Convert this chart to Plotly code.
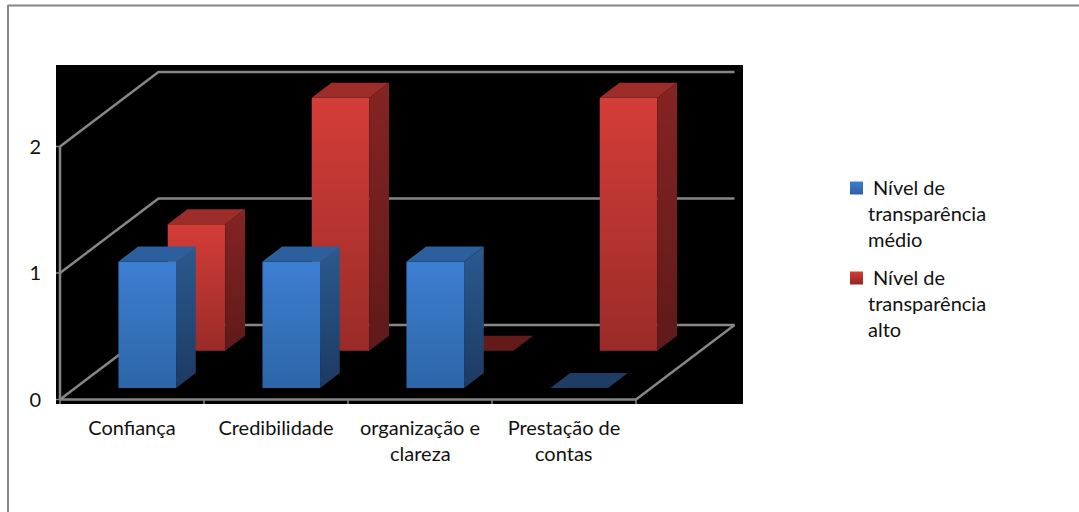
import plotly.graph_objects as go

categories = ["Confiança", "Credibilidade", "organização e", "Prestação de"]
categories_line2 = ["", "", "clareza", "contas"]
series_medio = [1, 1, 1, 0]
series_alto = [1, 2, 0, 2]
legend_medio = ["Nível de", "transparência", "médio"]
legend_alto = ["Nível de", "transparência", "alto"]
y_ticks = [0, 1, 2]

W, H = 1079, 512
L, R, T, B = 56, 743, 65, 404      # black plot rectangle, px
X0, CAT = 60.0, 144.0              # px of category 0, px per category
Y0, UNIT = 399.5, 126.5            # px of value 0, px per unit
DEPTH_X, DEPTH_Y = 98.5 / CAT, 74.5 / UNIT  # oblique offset of full floor depth
FONT = "Lato"
FS = 20
INK = "#111111"
GRID = "#868686"

def proj(c, d, v):
    return c + d * DEPTH_X, v + d * DEPTH_Y

def poly(pts):
    xy = [proj(*p) for p in pts]
    xs = [p[0] for p in xy] + [xy[0][0]]
    ys = [p[1] for p in xy] + [xy[0][1]]
    return xs, ys

fig = go.Figure()

def line3d(pts, clip=True):
    xs, ys = zip(*[proj(*p) for p in pts])
    fig.add_trace(go.Scatter(x=xs, y=ys, mode="lines", line=dict(color=GRID, width=2.5),
                             hoverinfo="skip", showlegend=False, cliponaxis=clip))

n = len(categories)
line3d([(0, 0, 0), (0, 1, 0), (n, 1, 0), (n, 0, 0), (0, 0, 0)])
line3d([(0, 0, 1), (0, 1, 1), (n, 1, 1)])
line3d([(0, 0, 2), (0, 1, 2), (n, 1, 2)])
line3d([(0, 0, 0), (0, 0, 2)])

def face(pts, colors=None, solid=None):
    xs, ys = poly(pts)
    kw = dict(x=xs, y=ys, mode="lines", line=dict(width=0), fill="toself",
              hoverinfo="skip", showlegend=False)
    if solid:
        kw["fillcolor"] = solid
    else:
        kw["fillgradient"] = dict(type="vertical",
                                  colorscale=[[0, colors[0]], [1, colors[1]]])
    fig.add_trace(go.Scatter(**kw))

def bars(values, d0, d1, front, side, top, flat):
    for i, v in enumerate(values):
        a, b = i + 0.3, i + 0.7
        if v > 0:
            face([(a, d0, 0), (b, d0, 0), (b, d0, v), (a, d0, v)], colors=front)
            face([(b, d0, 0), (b, d1, 0), (b, d1, v), (b, d0, v)], colors=side)
        face([(a, d0, v), (b, d0, v), (b, d1, v), (a, d1, v)], solid=top if v > 0 else flat)

bars(series_alto, 0.655, 0.855, ("#9A2B28", "#D43D38"), ("#5E1A19", "#852423"), "#9C2D2A", "#651A1A")
bars(series_medio, 0.155, 0.355, ("#2D65A8", "#3C7FD2"), ("#1C3A63", "#2A5A90"), "#2C5F9E", "#1E3C64")

def dx(px):
    return (px - X0) / CAT

def dy(py):
    return (Y0 - py) / UNIT

# tick marks on the front edges
for v in y_ticks:
    fig.add_trace(go.Scatter(x=[dx(54), 0], y=[v, v], mode="lines", line=dict(color=GRID, width=1.5),
                             hoverinfo="skip", showlegend=False, cliponaxis=False))
for c in range(n + 1):
    fig.add_trace(go.Scatter(x=[c, c], y=[0, dy(405.5)], mode="lines", line=dict(color=GRID, width=1.5),
                             hoverinfo="skip", showlegend=False, cliponaxis=False))

# legend swatches, on a small hidden pair of axes that spans the legend column in px
SW_L, SW_R, SW_T, SW_B = 840, 880, 170, 300
for y, c1, c2 in [(188, "#3C7FD2", "#2D5F9E"), (278, "#D43D38", "#8E2826")]:
    fig.add_trace(go.Scatter(x=[856.5], y=[y], xaxis="x2", yaxis="y2", mode="markers",
                             marker=dict(symbol="square", size=13, color=c1,
                                         gradient=dict(type="vertical", color=c2),
                                         line=dict(width=0)),
                             hoverinfo="skip", showlegend=False))

def px(x):
    return x / W

def py_(y):
    return 1 - y / H

annotations = []
def text(x, y, s, anchor="left"):
    annotations.append(dict(x=px(x), y=py_(y), xref="paper", yref="paper", text=s,
                            showarrow=False, xanchor=anchor, yanchor="middle",
                            align=anchor, font=dict(family=FONT, size=FS, color=INK)))

for i, s in enumerate(legend_medio):
    text(870.5 if i == 0 else 865.5, 187 + 26 * i, s)
for i, s in enumerate(legend_alto):
    text(870.5 if i == 0 else 865.5, 277 + 26 * i, s)
for i, s in enumerate(categories_line2):
    if s:
        text(X0 + CAT * (i + 0.5), 453, s, "center")

fig.update_layout(
    width=W, height=H, autosize=False,
    margin=dict(l=0, r=0, t=0, b=0, pad=0, autoexpand=False),
    paper_bgcolor="white", plot_bgcolor="white",
    showlegend=False, annotations=annotations,
    font=dict(family=FONT, size=FS, color=INK),
    xaxis=dict(domain=[px(L), px(R)], range=[dx(L), dx(R)], showgrid=False, zeroline=False, showline=False,
               tickvals=[i + 0.5 for i in range(n)], ticktext=categories, ticks="", automargin=False,
               ticklabelstandoff=10, tickfont=dict(family=FONT, size=FS, color=INK)),
    yaxis=dict(domain=[py_(B), py_(T)], range=[dy(B), dy(T)], showgrid=False, zeroline=False, showline=False,
               tickvals=y_ticks, ticktext=[str(v) for v in y_ticks], ticks="", automargin=False,
               ticklabelstandoff=14, tickfont=dict(family=FONT, size=FS, color=INK)),
    xaxis2=dict(domain=[px(SW_L), px(SW_R)], range=[SW_L, SW_R], visible=False, anchor="y2"),
    yaxis2=dict(domain=[py_(SW_B), py_(SW_T)], range=[SW_B, SW_T], visible=False, anchor="x2"),
    shapes=[
        dict(type="rect", xref="x domain", yref="y domain", x0=0, x1=1, y0=0, y1=1,
             fillcolor="black", line=dict(width=0), layer="below"),
        dict(type="line", xref="paper", yref="paper", x0=px(8), x1=1, y0=py_(5.5), y1=py_(5.5),
             line=dict(color=GRID, width=2)),
        dict(type="line", xref="paper", yref="paper", x0=px(8), x1=px(8), y0=0, y1=py_(5),
             line=dict(color=GRID, width=2)),
    ],
)

fig.write_html("out.html", config={"displayModeBar": False},
               post_script="document.body.style.margin='0';document.body.style.overflow='hidden';")
